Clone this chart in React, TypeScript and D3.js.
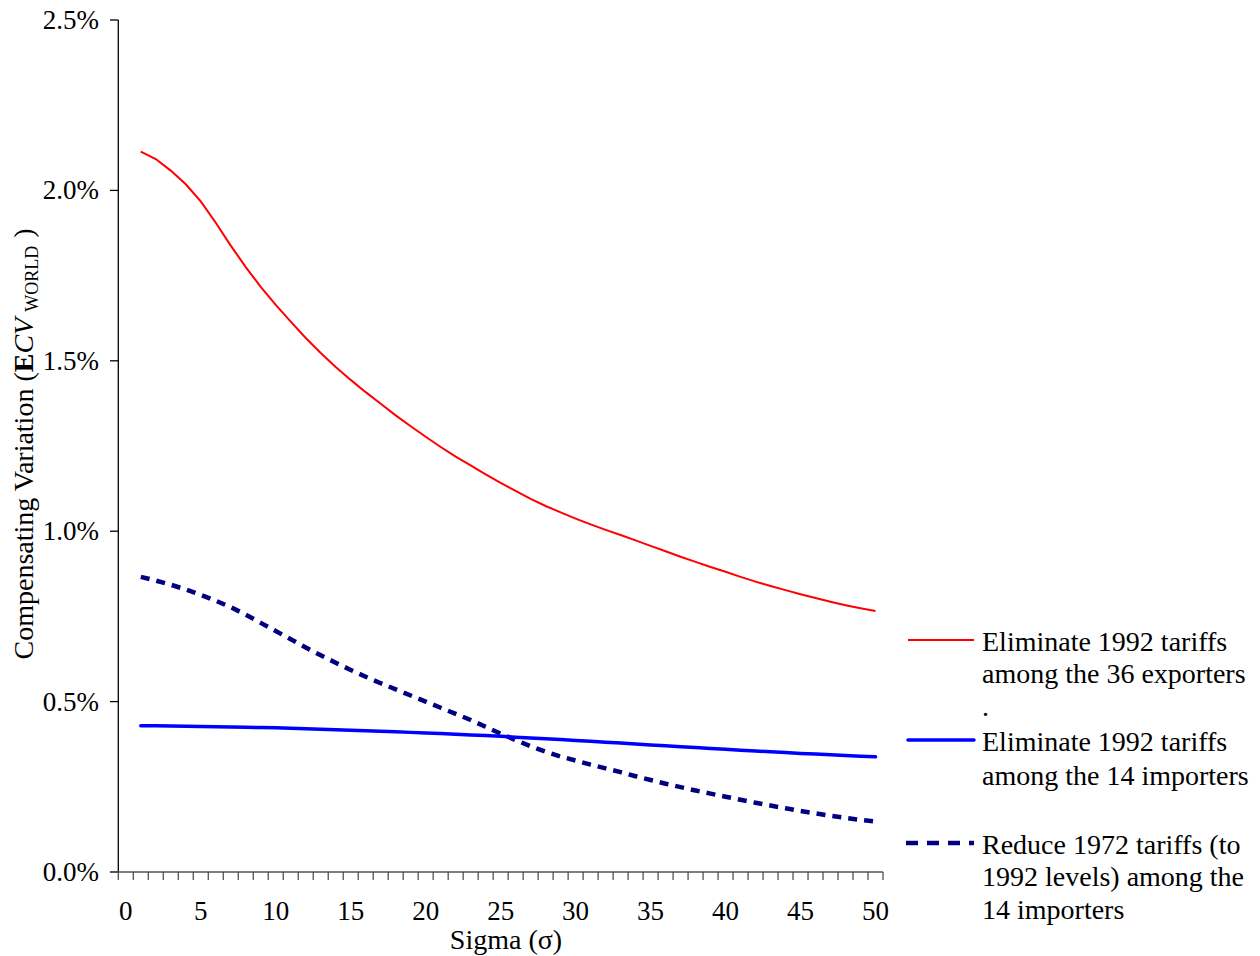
import React, { useEffect } from "react";
import * as d3 from "d3";

const sigma: number[] = d3.range(1, 51);
const xTickLabels: number[] = [0, 5, 10, 15, 20, 25, 30, 35, 40, 45, 50];
const yTickValues: number[] = [0, 0.5, 1.0, 1.5, 2.0, 2.5];

const redSeries: number[] = [
  2.114, 2.092, 2.058, 2.018, 1.968, 1.905, 1.838, 1.775, 1.717, 1.664,
  1.615, 1.567, 1.523, 1.482, 1.444, 1.408, 1.374, 1.340, 1.308, 1.277,
  1.247, 1.219, 1.193, 1.167, 1.142, 1.118, 1.095, 1.074, 1.055, 1.037,
  1.020, 1.004, 0.989, 0.973, 0.957, 0.941, 0.925, 0.910, 0.895, 0.881,
  0.866, 0.852, 0.839, 0.827, 0.815, 0.804, 0.793, 0.783, 0.774, 0.766,
];

const blueSeries: number[] = [
  0.429, 0.4288, 0.4285, 0.428, 0.4273, 0.4265, 0.4257, 0.4248, 0.424, 0.423,
  0.4218, 0.4205, 0.419, 0.4176, 0.416, 0.4145, 0.413, 0.4114, 0.4097, 0.408,
  0.4062, 0.4043, 0.4023, 0.4002, 0.398, 0.3957, 0.3933, 0.391, 0.3886, 0.386,
  0.3834, 0.3808, 0.3782, 0.3756, 0.373, 0.3704, 0.3678, 0.3652, 0.3626, 0.360,
  0.3575, 0.355, 0.3526, 0.3503, 0.348, 0.3459, 0.3438, 0.3418, 0.3399, 0.338,
];

const dashedSeries: number[] = [
  0.866, 0.855, 0.843, 0.829, 0.813, 0.796, 0.777, 0.755, 0.731, 0.707,
  0.683, 0.659, 0.636, 0.614, 0.593, 0.573, 0.554, 0.536, 0.518, 0.500,
  0.482, 0.464, 0.446, 0.426, 0.406, 0.387, 0.369, 0.353, 0.339, 0.327,
  0.315, 0.304, 0.293, 0.281, 0.270, 0.259, 0.249, 0.239, 0.230, 0.221,
  0.212, 0.203, 0.195, 0.187, 0.179, 0.172, 0.165, 0.159, 0.153, 0.148,
];

const legendRed: string[] = ["Eliminate 1992 tariffs", "among the 36 exporters", "."];
const legendBlue: string[] = ["Eliminate 1992 tariffs", "among the 14 importers"];
const legendDashed: string[] = ["Reduce 1972 tariffs (to", "1992 levels) among the", "14 importers"];

const FONT = "'Liberation Serif', 'Times New Roman', serif";

export default function App() {
  useEffect(() => {
    document.body.style.margin = "0";
  }, []);

  const W = 1260;
  const H = 956;
  const x = d3.scaleLinear().domain([-0.5, 50.5]).range([118.3, 883]);
  const y = d3.scaleLinear().domain([0, 2.5]).range([872, 20]);

  const line = d3
    .line<number>()
    .x((_, i) => x(sigma[i]))
    .y((d) => y(d));

  const xTicks = d3.range(-0.5, 51, 1);
  const fs = 27;
  const lfs = 28;
  const lineGap = 32.5;

  const legendBlock = (
    lines: string[],
    top: number,
    sample: React.ReactNode,
    gap: number = lineGap
  ) => (
    <g>
      {sample}
      {lines.map((t, i) => (
        <text key={i} x={982} y={top + i * gap + 9.5} fontSize={lfs} fontFamily={FONT} fill="#000">
          {t}
        </text>
      ))}
    </g>
  );

  return (
    <svg width={W} height={H} style={{ display: "block", background: "#fff" }}>
      {/* y axis */}
      <line x1={118.3} x2={118.3} y1={y(2.5)} y2={y(0)} stroke="#000" strokeWidth={1.3} />
      {yTickValues.map((v) => (
        <g key={v}>
          <line x1={110} x2={118.3} y1={y(v)} y2={y(v)} stroke="#000" strokeWidth={1.3} />
          <text
            x={99}
            y={y(v) + 9}
            textAnchor="end"
            fontSize={fs}
            fontFamily={FONT}
            fill="#000"
          >
            {v.toFixed(1) + "%"}
          </text>
        </g>
      ))}

      {/* x axis */}
      <line x1={110} x2={883} y1={y(0)} y2={y(0)} stroke="#555" strokeWidth={1.5} />
      {xTicks.map((t) => (
        <line key={t} x1={x(t)} x2={x(t)} y1={y(0)} y2={y(0) + 8} stroke="#444" strokeWidth={1.2} />
      ))}
      {xTickLabels.map((t) => (
        <text
          key={t}
          x={x(t)}
          y={920}
          textAnchor="middle"
          fontSize={fs}
          fontFamily={FONT}
          fill="#000"
        >
          {t}
        </text>
      ))}
      <text x={506} y={949} textAnchor="middle" fontSize={lfs} fontFamily={FONT} fill="#000">
        Sigma (σ)
      </text>

      {/* y axis title */}
      <text
        transform="translate(33,444) rotate(-90)"
        textAnchor="middle"
        fontSize={lfs}
        fontFamily={FONT}
        fill="#000"
      >
        <tspan>Compensating Variation (</tspan>
        <tspan fontWeight="bold">E</tspan>
        <tspan fontStyle="italic">CV</tspan>
        <tspan fontSize={18} dy={5} dx={6}>WORLD</tspan>
        <tspan dy={-5} dx={8}>)</tspan>
      </text>

      {/* series */}
      <path d={line(dashedSeries) || ""} fill="none" stroke="#000080" strokeWidth={4.5} strokeDasharray="9,7" />
      <path d={line(blueSeries) || ""} fill="none" stroke="#0000FF" strokeWidth={3.5} strokeLinecap="round" />
      <path d={line(redSeries) || ""} fill="none" stroke="#FF0000" strokeWidth={2} />

      {/* legend */}
      {legendBlock(
        legendRed,
        641,
        <line x1={908} x2={974} y1={640} y2={640} stroke="#FF0000" strokeWidth={2} />
      )}
      {legendBlock(
        legendBlue,
        741,
        <line x1={908} x2={974} y1={740} y2={740} stroke="#0000FF" strokeWidth={3.5} strokeLinecap="round" />,
        34
      )}
      {legendBlock(
        legendDashed,
        844,
        <line x1={906} x2={974} y1={843} y2={843} stroke="#000080" strokeWidth={4.5} strokeDasharray="12,9" />
      )}
    </svg>
  );
}
